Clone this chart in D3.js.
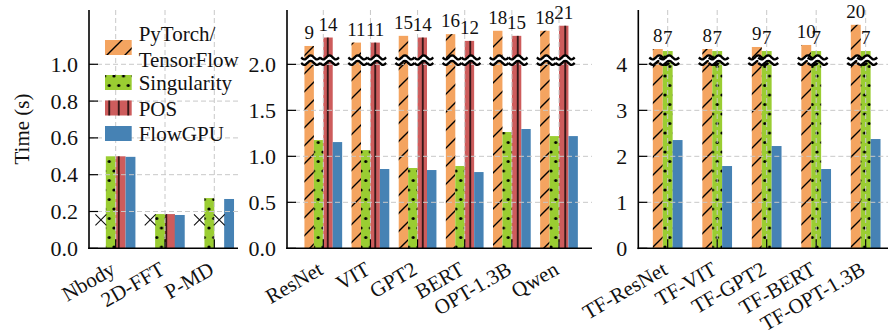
<!DOCTYPE html>
<html><head><meta charset="utf-8">
<script src="https://cdn.jsdelivr.net/npm/d3@7"></script>
<style>
body{margin:0;background:#fff}
svg{display:block}
text{font-family:"Liberation Serif","Times New Roman",serif;fill:#111}
</style>
</head><body>
<svg id="c" width="888" height="335"></svg>
<script>
// ---------------- data ----------------
const hpcCategories = ["Nbody", "2D-FFT", "P-MD"];
const hpcPyTorch     = [null, null, null];
const hpcSingularity = [0.50, 0.186, 0.273];
const hpcPOS         = [0.50, 0.186, null];
const hpcFlowGPU     = [0.497, 0.181, 0.268];
const unsupportedLevel = 0.154;   // height of the "×" marks (unsupported)

const mlCategories   = ["ResNet", "VIT", "GPT2", "BERT", "OPT-1.3B", "Qwen"];
const mlPyTorch      = [9, 11, 15, 16, 18, 18];
const mlSingularity  = [1.177, 1.068, 0.873, 0.895, 1.264, 1.22];
const mlPOS          = [14, 11, 14, 12, 15, 21];
const mlFlowGPU      = [1.155, 0.862, 0.851, 0.829, 1.297, 1.22];

const tfCategories   = ["TF-ResNet", "TF-VIT", "TF-GPT2", "TF-BERT", "TF-OPT-1.3B"];
const tfTensorFlow   = [8, 8, 9, 10, 20];
const tfSingularity  = [7, 7, 7, 7, 7];
const tfFlowGPU      = [2.354, 1.789, 2.224, 1.724, 2.376];

const hpcTicks = [0, 0.2, 0.4, 0.6, 0.8, 1.0];
const mlTicks  = [0, 0.5, 1.0, 1.5, 2.0];
const tfTicks  = [0, 1, 2, 3, 4];
const legendNames = [["PyTorch/", "TensorFlow"], ["Singularity"], ["POS"], ["FlowGPU"]];
const yLabel = "Time (s)";

// ---------------- styles ----------------
const colors = ["#f4a460", "#9acd32", "#cd5c5c", "#4682b4"];
const hatches = ["hSlash", "hDots", "hVert", null];
const FONT = 21, TICKFONT = 22;

const svg = d3.select("#c");
const defs = svg.append("defs");
const P1 = 18;
defs.append("pattern").attr("id", "hSlash").attr("patternUnits", "userSpaceOnUse")
  .attr("width", P1).attr("height", P1)
  .append("path")
  .attr("d", `M0,${P1} L${P1},0 M${-P1/2},${P1/2} L${P1/2},${-P1/2} M${P1/2},${P1*1.5} L${P1*1.5},${P1/2}`)
  .attr("stroke", "#000").attr("stroke-width", 1.4);
const P2 = 9.5;
const pv = defs.append("pattern").attr("id", "hVert").attr("patternUnits", "userSpaceOnUse")
  .attr("width", P2).attr("height", P2);
pv.append("line").attr("x1", P2/2).attr("x2", P2/2).attr("y1", 0).attr("y2", P2)
  .attr("stroke", "#000").attr("stroke-width", 1.4);
const pd = defs.append("pattern").attr("id", "hDots").attr("patternUnits", "userSpaceOnUse")
  .attr("width", P2).attr("height", 2*P2);
[[0,0],[P2,0],[0,2*P2],[P2,2*P2],[P2/2,P2]].forEach(([cx,cy]) =>
  pd.append("circle").attr("cx", cx).attr("cy", cy).attr("r", 1.6).attr("fill", "#000"));

// ---------------- panels ----------------
const yTop = 10, yBot = 248.3;
const panels = [
  { x0: 89, x1: 238, xdom: [-0.5416, 2.4807], ymax: 1.295, cats: hpcCategories, ticks: hpcTicks,
    fmt: d3.format(".1f"),
    series: [{v: hpcPyTorch, s: 0}, {v: hpcSingularity, s: 1}, {v: hpcPOS, s: 2}, {v: hpcFlowGPU, s: 3}],
    brk: null },
  { x0: 287, x1: 592, xdom: [-0.77, 5.70], ymax: 2.591, cats: mlCategories, ticks: mlTicks,
    fmt: d3.format(".1f"),
    series: [{v: mlPyTorch, s: 0}, {v: mlSingularity, s: 1}, {v: mlPOS, s: 2}, {v: mlFlowGPU, s: 3}],
    brk: { thr: 2.0, dom: [9, 21], rng: [2.2, 2.42] } },
  { x0: 638.3, x1: 893, xdom: [-0.594, 4.552], ymax: 5.182, cats: tfCategories, ticks: tfTicks,
    fmt: d3.format("d"),
    series: [{v: tfTensorFlow, s: 0}, {v: tfSingularity, s: 1}, {v: tfFlowGPU, s: 3}],
    brk: { thr: 4, dom: [7, 20], rng: [4.29, 4.86] } }
];

const barW = 0.2;

panels.forEach(p => {
  const g = svg.append("g");
  const x = d3.scaleLinear().domain(p.xdom).range([p.x0, p.x1]);
  const y = d3.scaleLinear().domain([0, p.ymax]).range([yBot, yTop]);
  const above = p.brk ? d3.scaleLinear().domain(p.brk.dom).range(p.brk.rng) : null;
  const disp = v => (p.brk && v > p.brk.thr) ? above(v) : v;
  const n = p.series.length;
  const bw = x(barW) - x(0);

  const bars = [], missing = [], breaks = [];
  p.series.forEach((se, k) => {
    const off = (k - (n - 1) / 2) * barW;
    se.v.forEach((val, i) => {
      const cx = x(i + off);
      if (val == null) { missing.push({cx}); return; }
      const top = y(disp(val));
      bars.push({cx, top, s: se.s});
      if (p.brk && val > p.brk.thr) breaks.push({cx, top, val});
    });
  });

  // bars
  const bg = g.append("g");
  bars.forEach(b => {
    bg.append("rect").attr("x", b.cx - bw/2).attr("y", b.top).attr("width", bw)
      .attr("height", yBot - b.top).attr("fill", colors[b.s]);
    if (hatches[b.s]) bg.append("rect").attr("x", b.cx - bw/2).attr("y", b.top).attr("width", bw)
      .attr("height", yBot - b.top).attr("fill", `url(#${hatches[b.s]})`);
  });

  // grid (drawn over the bars)
  const grid = g.append("g").attr("stroke", "#c8c8c8").attr("stroke-width", 1).attr("stroke-dasharray", "5,3");
  p.ticks.filter(t => t > 0).forEach(t =>
    grid.append("line").attr("x1", p.x0).attr("x2", p.x1).attr("y1", y(t)).attr("y2", y(t)));
  p.cats.forEach((c, i) =>
    grid.append("line").attr("x1", x(i)).attr("x2", x(i)).attr("y1", yTop).attr("y2", yBot));

  // unsupported markers
  missing.forEach(m => {
    const yy = y(unsupportedLevel), r = 5.5;
    g.append("path").attr("d", `M${m.cx-r},${yy-r}L${m.cx+r},${yy+r}M${m.cx-r},${yy+r}L${m.cx+r},${yy-r}`)
      .attr("stroke", "#111").attr("stroke-width", 1.1).attr("fill", "none");
  });

  // break marks
  breaks.forEach(b => {
    const yb = y(p.brk.thr);
    const w = bw * 2.0, cx = b.cx + 1.5, A = 2.1;
    const pts = d3.range(0, 1.0001, 0.05).map(t => [cx - w/2 + t*w, Math.sin(t * Math.PI * 2 * 1.5) * A]);
    const y1 = yb - 7, y2 = yb - 1.5;
    const up = pts.map(([px, dy]) => [px, y1 + dy]);
    const dn = pts.map(([px, dy]) => [px, y2 + dy]);
    g.append("path").attr("d", d3.line()(up.concat(dn.slice().reverse())) + "Z")
      .attr("fill", "#fff").attr("stroke", "none");
    g.append("path").attr("d", d3.line().curve(d3.curveBasis)(up)).attr("fill", "none")
      .attr("stroke", "#000").attr("stroke-width", 2.4);
    g.append("path").attr("d", d3.line().curve(d3.curveBasis)(dn)).attr("fill", "none")
      .attr("stroke", "#000").attr("stroke-width", 2.4);
    g.append("text").attr("x", b.cx).attr("y", b.top - 7).attr("text-anchor", "middle")
      .attr("font-size", 19).text(b.val);
  });

  // axes
  const ax = g.append("g").attr("stroke", "#000");
  ax.append("line").attr("x1", p.x0).attr("x2", p.x0).attr("y1", yTop).attr("y2", yBot + 0.8).attr("stroke-width", 1.6);
  ax.append("line").attr("x1", p.x0 - 0.8).attr("x2", p.x1).attr("y1", yBot).attr("y2", yBot).attr("stroke-width", 1.6);
  p.ticks.forEach(t => {
    ax.append("line").attr("x1", p.x0).attr("x2", p.x0 + 9).attr("y1", y(t)).attr("y2", y(t)).attr("stroke-width", 1.2);
    g.append("text").attr("x", p.x0 - 11).attr("y", y(t)).attr("dy", "0.34em")
      .attr("text-anchor", "end").attr("font-size", TICKFONT).text(p.fmt(t));
  });
  p.cats.forEach((c, i) => {
    ax.append("line").attr("x1", x(i)).attr("x2", x(i)).attr("y1", yBot).attr("y2", yBot - 9).attr("stroke-width", 1.2);
    g.append("text").attr("transform", `translate(${x(i) + 1},${yBot + 25}) rotate(-30)`)
      .attr("text-anchor", "end").attr("font-size", FONT).text(c);
  });
});

// y label
svg.append("text").attr("transform", "translate(29,129) rotate(-90)").attr("text-anchor", "middle")
  .attr("font-size", FONT).text(yLabel);

// legend
const lg = svg.append("g");
const patchTops = [40, 75, 100.5, 126];
legendNames.forEach((names, k) => {
  const ty = patchTops[k];
  lg.append("rect").attr("x", 105).attr("y", ty).attr("width", 26.7).attr("height", 15).attr("fill", colors[k]);
  if (hatches[k]) lg.append("rect").attr("x", 105).attr("y", ty).attr("width", 26.7).attr("height", 15)
    .attr("fill", `url(#${hatches[k]})`);
  if (names.length === 1) {
    lg.append("text").attr("x", 138.7).attr("y", ty + 15).attr("font-size", FONT).text(names[0]);
  } else {
    lg.append("text").attr("x", 138.7).attr("y", 41).attr("font-size", FONT).text(names[0]);
    lg.append("text").attr("x", 138.7).attr("y", 66.5).attr("font-size", FONT).text(names[1]);
  }
});
</script>
</body></html>
